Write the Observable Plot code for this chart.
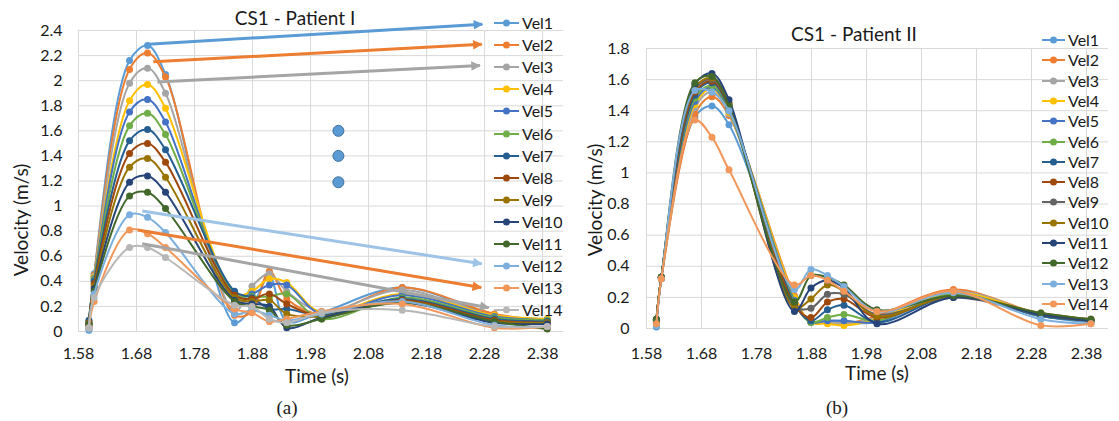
<!DOCTYPE html>
<html><head><meta charset="utf-8">
<script src="https://cdn.jsdelivr.net/npm/d3@7"></script>
<script src="https://cdn.jsdelivr.net/npm/@observablehq/plot@0.6"></script>
<style>
body{margin:0;background:#fff;}
#root{position:relative;width:1119px;height:421px;overflow:hidden;font-family:Lato,"Open Sans",sans-serif;color:#1a1a1a;background:#fff;}
.abs{position:absolute;white-space:nowrap;line-height:1;}
svg{position:absolute;top:0;overflow:visible;}
</style></head><body><div id="root"></div>
<script>
// ---------- data ----------
const times = [1.598, 1.607, 1.668, 1.699, 1.730, 1.849, 1.879, 1.909, 1.939, 1.999, 2.138, 2.297, 2.388];
const xTicks = [1.58, 1.68, 1.78, 1.88, 1.98, 2.08, 2.18, 2.28, 2.38];
const yTicksA = [0, 0.2, 0.4, 0.6, 0.8, 1, 1.2, 1.4, 1.6, 1.8, 2, 2.2, 2.4];
const yTicksB = [0, 0.2, 0.4, 0.6, 0.8, 1, 1.2, 1.4, 1.6, 1.8];
const seriesNames = ["Vel1","Vel2","Vel3","Vel4","Vel5","Vel6","Vel7","Vel8","Vel9","Vel10","Vel11","Vel12","Vel13","Vel14"];
const colorsA = ["#5B9BD5","#ED7D31","#A5A5A5","#FFC000","#4472C4","#70AD47","#255E91","#9E480E","#997300","#264478","#43682B","#7CAFDD","#F1975A","#B7B7B7"];
const colorsB = ["#5B9BD5","#ED7D31","#A5A5A5","#FFC000","#4472C4","#70AD47","#255E91","#9E480E","#636363","#997300","#264478","#43682B","#7CAFDD","#F1975A"];

// Patient I velocities (m/s), one row per series Vel1..Vel14
const velA = [
  [0.01, 0.46, 2.16, 2.28, 2.05, 0.07, 0.20, 0.44, 0.08, 0.15, 0.35, 0.13, 0.10],
  [0.03, 0.45, 2.09, 2.22, 2.03, 0.13, 0.16, 0.48, 0.26, 0.14, 0.35, 0.14, 0.09],
  [0.04, 0.44, 1.98, 2.10, 1.90, 0.16, 0.36, 0.46, 0.32, 0.16, 0.33, 0.12, 0.09],
  [0.06, 0.43, 1.84, 1.97, 1.78, 0.30, 0.32, 0.42, 0.39, 0.15, 0.30, 0.13, 0.10],
  [0.07, 0.42, 1.75, 1.85, 1.67, 0.28, 0.30, 0.37, 0.37, 0.14, 0.29, 0.12, 0.09],
  [0.08, 0.41, 1.64, 1.74, 1.57, 0.30, 0.28, 0.28, 0.30, 0.10, 0.27, 0.11, 0.09],
  [0.09, 0.40, 1.52, 1.61, 1.45, 0.32, 0.27, 0.18, 0.18, 0.13, 0.26, 0.10, 0.08],
  [0.07, 0.38, 1.42, 1.50, 1.35, 0.29, 0.26, 0.30, 0.22, 0.12, 0.25, 0.09, 0.07],
  [0.06, 0.36, 1.31, 1.38, 1.23, 0.27, 0.24, 0.25, 0.14, 0.12, 0.24, 0.08, 0.07],
  [0.05, 0.34, 1.19, 1.24, 1.11, 0.25, 0.22, 0.20, 0.03, 0.11, 0.23, 0.07, 0.06],
  [0.06, 0.32, 1.08, 1.11, 0.98, 0.24, 0.20, 0.17, 0.05, 0.10, 0.23, 0.08, 0.02],
  [0.02, 0.30, 0.93, 0.91, 0.79, 0.14, 0.17, 0.13, 0.09, 0.14, 0.24, 0.05, 0.04],
  [0.03, 0.24, 0.81, 0.78, 0.67, 0.18, 0.15, 0.08, 0.10, 0.16, 0.22, 0.03, 0.04],
  [0.03, 0.27, 0.67, 0.67, 0.59, 0.21, 0.20, 0.10, 0.07, 0.15, 0.17, 0.04, 0.04]
];
// Patient II velocities (m/s)
const velB = [
  [0.01, 0.32, 1.36, 1.43, 1.31, 0.20, 0.04, 0.05, 0.04, 0.04, 0.23, 0.08, 0.04],
  [0.03, 0.32, 1.38, 1.49, 1.37, 0.21, 0.04, 0.04, 0.03, 0.08, 0.25, 0.09, 0.05],
  [0.04, 0.32, 1.42, 1.52, 1.38, 0.19, 0.04, 0.04, 0.03, 0.07, 0.24, 0.09, 0.05],
  [0.04, 0.33, 1.44, 1.54, 1.39, 0.20, 0.04, 0.03, 0.02, 0.06, 0.23, 0.09, 0.05],
  [0.04, 0.33, 1.46, 1.55, 1.40, 0.18, 0.04, 0.05, 0.05, 0.04, 0.22, 0.08, 0.05],
  [0.05, 0.33, 1.48, 1.56, 1.41, 0.17, 0.04, 0.07, 0.09, 0.05, 0.22, 0.08, 0.05],
  [0.05, 0.33, 1.50, 1.58, 1.42, 0.16, 0.05, 0.12, 0.15, 0.04, 0.21, 0.08, 0.05],
  [0.05, 0.33, 1.52, 1.59, 1.43, 0.15, 0.07, 0.17, 0.19, 0.07, 0.21, 0.09, 0.05],
  [0.05, 0.33, 1.54, 1.60, 1.44, 0.14, 0.13, 0.22, 0.22, 0.09, 0.20, 0.09, 0.06],
  [0.06, 0.33, 1.55, 1.61, 1.45, 0.13, 0.19, 0.28, 0.24, 0.08, 0.21, 0.10, 0.06],
  [0.06, 0.33, 1.57, 1.64, 1.47, 0.11, 0.26, 0.31, 0.26, 0.03, 0.20, 0.09, 0.05],
  [0.06, 0.33, 1.58, 1.62, 1.43, 0.17, 0.34, 0.33, 0.28, 0.12, 0.21, 0.10, 0.06],
  [0.02, 0.32, 1.53, 1.52, 1.40, 0.25, 0.38, 0.34, 0.27, 0.11, 0.23, 0.06, 0.03],
  [0.03, 0.32, 1.34, 1.23, 1.02, 0.28, 0.34, 0.31, 0.24, 0.11, 0.24, 0.02, 0.03]
];

// annotation arrows in panel (a), data units
const arrowColors = ["#5B9BD5","#ED7D31","#A5A5A5","#9DC3E6","#ED7D31","#A5A5A5"];
const arrowX1 = [1.700, 1.709, 1.716, 1.690, 1.682, 1.690];
const arrowY1 = [2.29, 2.15, 1.99, 0.96, 0.81, 0.70];
const arrowX2 = [2.276, 2.275, 2.272, 2.275, 2.274, 2.287];
const arrowY2 = [2.45, 2.29, 2.12, 0.54, 0.35, 0.19];
// ellipsis dots in panel (a)
const dotsX = [2.028, 2.028, 2.028];
const dotsY = [1.60, 1.40, 1.19];

// ---------- drawing ----------
const root = d3.select("#root");

function seriesMarks(vel, colors) {
  const marks = [];
  vel.forEach((vals, i) => {
    const rows = vals.map((v, j) => ({t: times[j], v, c: colors[i]}));
    marks.push(Plot.line(rows, {x: "t", y: "v", stroke: colors[i], strokeWidth: 2, curve: "catmull-rom"}));
    marks.push(Plot.dot(rows, {x: "t", y: "v", fill: colors[i], r: 3.5}));
  });
  return marks;
}

function panel({left, width, height, mL, mR, mT, mB, xMax, yMax, yTicks, padX, padY, marks}) {
  const svg = Plot.plot({
    width, height, marginLeft: mL, marginRight: mR, marginTop: mT, marginBottom: mB,
    style: {fontFamily: "Lato, sans-serif", fontSize: "16px", color: "#1a1a1a", background: "transparent", overflow: "visible"},
    x: {domain: [1.58, xMax], ticks: xTicks, tickFormat: d => d.toFixed(2), tickSize: 0, tickPadding: padX, label: null},
    y: {domain: [0, yMax], ticks: yTicks, tickFormat: d => String(+d.toFixed(1)), tickSize: 0, tickPadding: padY, label: null},
    marks: [
      Plot.ruleX(xTicks, {stroke: "#d9d9d9", strokeWidth: 1}),
      Plot.ruleY(yTicks, {stroke: "#d9d9d9", strokeWidth: 1}),
      ...marks
    ]
  });
  svg.style.left = left + "px";
  root.node().appendChild(svg);
  return svg;
}

// Panel (a)
const arrowIdx = d3.range(arrowColors.length);
const svgA = panel({
  left: 0, width: 580, height: 385, mL: 78, mR: 17, mT: 30, mB: 54,
  xMax: 2.416, yMax: 2.4, yTicks: yTicksA, padX: 16, padY: 16,
  marks: [
    ...seriesMarks(velA, colorsA),
    Plot.link(arrowIdx, {x1: i => arrowX1[i], y1: i => arrowY1[i], x2: i => arrowX2[i], y2: i => arrowY2[i],
      stroke: i => arrowColors[i], strokeWidth: 3}),
    Plot.dot(d3.range(dotsX.length), {x: i => dotsX[i], y: i => dotsY[i], r: 5.5, fill: "#5B9BD5", stroke: "#41719C", strokeWidth: 1})
  ]
});
// filled arrowheads
{
  const s = d3.select(svgA);
  const defs = s.insert("defs", ":first-child");
  arrowColors.forEach((c, i) => {
    defs.append("marker").attr("id", "ah" + i).attr("viewBox", "0 0 10 10")
      .attr("refX", 9).attr("refY", 5).attr("markerWidth", 3.6).attr("markerHeight", 3.2)
      .attr("orient", "auto").attr("markerUnits", "strokeWidth")
      .append("path").attr("d", "M0,0L10,5L0,10Z").attr("fill", c);
  });
  s.selectAll('g[aria-label="link"] path').each(function(d, i) {
    d3.select(this).attr("marker-end", `url(#ah${i})`);
  });
}

// Panel (b)
panel({
  left: 560, width: 559, height: 385, mL: 86, mR: 11, mT: 48, mB: 57,
  xMax: 2.42, yMax: 1.8, yTicks: yTicksB, padX: 19, padY: 17,
  marks: seriesMarks(velB, colorsB)
});

// ---------- texts ----------
function text(str, x, y, opts = {}) {
  const d = root.append("div").attr("class", "abs").text(str)
    .style("left", x + "px").style("top", y + "px")
    .style("font-size", (opts.size || 16) + "px")
    .style("transform", opts.rotate ? "translate(-50%,-50%) rotate(-90deg)" : (opts.anchor === "start" ? "translate(0,-50%)" : "translate(-50%,-50%)"));
  if (opts.family) d.style("font-family", opts.family);
  return d;
}
text("CS1 - Patient I", 295, 17, {size: 19});
text("CS1 - Patient II", 854, 33, {size: 19});
text("Velocity (m/s)", 20, 220, {size: 19, rotate: true});
text("Velocity (m/s)", 594, 200, {size: 19, rotate: true});
text("Time (s)", 317, 375, {size: 19});
text("Time (s)", 877, 372, {size: 19});
text("(a)", 287, 407, {size: 19, family: "'Liberation Serif','DejaVu Serif',serif"});
text("(b)", 837, 407, {size: 19, family: "'Liberation Serif','DejaVu Serif',serif"});

// ---------- legends ----------
function legend(colors, x0, y0, dy, lineW) {
  seriesNames.forEach((name, i) => {
    const y = y0 + i * dy;
    const g = root.append("svg").style("left", x0 + "px").style("top", (y - 6) + "px")
      .attr("width", lineW).attr("height", 12);
    g.append("line").attr("x1", 0).attr("x2", lineW).attr("y1", 6).attr("y2", 6)
      .attr("stroke", colors[i]).attr("stroke-width", 2);
    g.append("circle").attr("cx", lineW / 2).attr("cy", 6).attr("r", 3.5).attr("fill", colors[i]);
    text(name, x0 + lineW + 3, y, {size: 16, anchor: "start"});
  });
}
legend(colorsA, 494, 23, 22.1, 25);
legend(colorsB, 1042, 40, 20.3, 23);
</script></body></html>
